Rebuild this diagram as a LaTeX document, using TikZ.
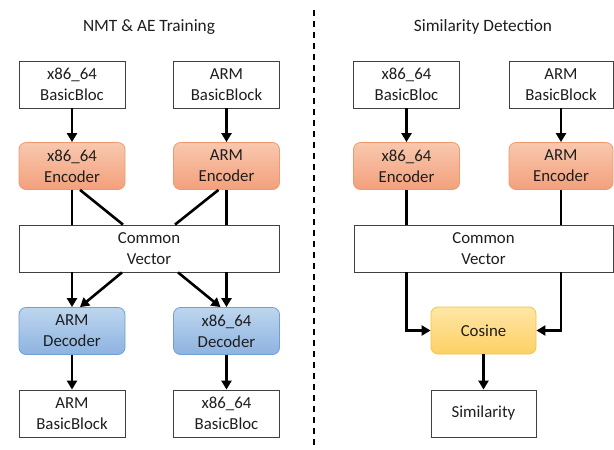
\documentclass[tikz,border=0pt]{standalone}
\usepackage{fontspec}
\setmainfont{Carlito}
\usetikzlibrary{arrows.meta,calc}
\definecolor{encTop}{HTML}{F8C8AE}
\definecolor{encBot}{HTML}{F3A07C}
\definecolor{encBd}{HTML}{EE9A6E}
\definecolor{decTop}{HTML}{BED6EF}
\definecolor{decBot}{HTML}{8DB3E0}
\definecolor{decBd}{HTML}{6E9FD6}
\definecolor{cosTop}{HTML}{FFE6A6}
\definecolor{cosBot}{HTML}{FDD064}
\definecolor{cosBd}{HTML}{F7C443}
\definecolor{txt}{HTML}{1E1E1E}
\tikzset{
  base/.style={minimum height=47pt, inner sep=0pt, align=center, text=txt, font=\fontsize{16.8}{21}\selectfont},
  plain/.style={base, draw=black!75, line width=0.8pt, fill=white, minimum width=106pt},
  enc/.style={base, draw=encBd, line width=0.8pt, rounded corners=7pt, top color=encTop, bottom color=encBot, minimum width=106pt},
  dec/.style={base, draw=decBd, line width=0.8pt, rounded corners=7pt, top color=decTop, bottom color=decBot, minimum width=106pt},
  cosb/.style={base, draw=cosBd, line width=0.8pt, rounded corners=7pt, top color=cosTop, bottom color=cosBot, minimum width=105pt},
  conn/.style={line width=2.6pt, black},
  arr/.style={conn, -{Triangle[length=9pt,width=10pt]}},
  ttl/.style={font=\fontsize{17.3}{20}\selectfont, text=txt}
}
\begin{document}
\begin{tikzpicture}[x=1pt,y=-1pt]
\useasboundingbox (0,0) rectangle (614,450);
% titles
\node[ttl] (t1) at (149,27) {NMT \& AE Training};
\node[ttl] (t2) at (483,27) {Similarity Detection};
% divider
\coordinate (d1) at (314,10);
\coordinate (d2) at (314,450);
\draw[line width=1.4pt, dash pattern=on 6pt off 5pt] (d1) -- (d2);
% left panel
\node[plain] (xb) at (72,84.5) {x86\_64\\BasicBloc};
\node[plain] (ab) at (226.5,84.5) {ARM\\BasicBlock};
\node[enc] (xe) at (72,166) {x86\_64\\Encoder};
\node[enc] (ae) at (226.5,166) {ARM\\Encoder};
\node[plain, minimum width=260pt] (cv) at (149,248.5) {Common\\Vector};
\node[dec] (ad) at (72,331) {ARM\\Decoder};
\node[dec] (xd) at (226.5,331) {x86\_64\\Decoder};
\node[plain] (ab2) at (72,413.5) {ARM\\BasicBlock};
\node[plain] (xb2) at (226.5,413.5) {x86\_64\\BasicBloc};
\draw[arr] (xb) -- (xe);
\draw[arr] (ab) -- (ae);
\draw[conn] (xe.south) -- (xe.south |- cv.north);
\draw[conn] (ae.south) -- (ae.south |- cv.north);
\draw[conn] ([xshift=8pt]xe.south) -- ([xshift=-26pt]cv.north);
\draw[conn] ([xshift=-8pt]ae.south) -- ([xshift=26pt]cv.north);
\draw[arr] (cv.south -| ad.north) -- (ad.north);
\draw[arr] (cv.south -| xd.north) -- (xd.north);
\draw[arr] ([xshift=-27pt]cv.south) -- ([xshift=8pt]ad.north);
\draw[arr] ([xshift=29pt]cv.south) -- ([xshift=-6pt]xd.north);
\draw[arr] (ad) -- (ab2);
\draw[arr] (xd) -- (xb2);
% right panel
\node[plain] (rxb) at (406.5,84.5) {x86\_64\\BasicBloc};
\node[plain, minimum width=104pt] (rab) at (561,84.5) {ARM\\BasicBlock};
\node[enc] (rxe) at (406.5,166) {x86\_64\\Encoder};
\node[enc, minimum width=104pt] (rae) at (561,166) {ARM\\Encoder};
\node[plain, minimum width=259pt] (rcv) at (483.5,248.5) {Common\\Vector};
\node[cosb] (cos) at (483.5,330.5) {Cosine};
\node[plain, minimum width=105pt] (sim) at (483.5,413.5) {Similarity};
\draw[arr] (rxb) -- (rxe);
\draw[arr] (rab) -- (rae);
\draw[conn] (rxe.south) -- (rxe.south |- rcv.north);
\draw[conn] (rae.south) -- (rae.south |- rcv.north);
\draw[arr] (rcv.south -| rxe.south) |- (cos.west);
\draw[arr] (rcv.south -| rae.south) |- (cos.east);
\draw[arr] (cos) -- (sim);
\end{tikzpicture}
\end{document}
